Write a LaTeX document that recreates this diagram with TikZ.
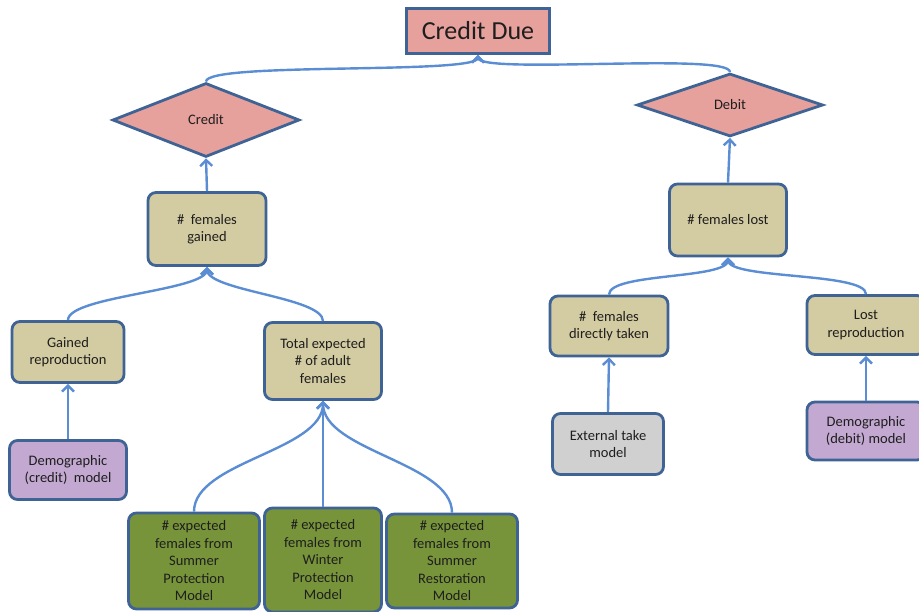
\documentclass[tikz,border=0pt]{standalone}
\usepackage{fontspec}
\setmainfont{Carlito}
\usetikzlibrary{positioning, calc, shapes.geometric, arrows, arrows.meta}

\definecolor{boxline}{HTML}{3E6394}
\definecolor{linkblue}{HTML}{5A8DD3}
\definecolor{salmon}{HTML}{E6A19D}
\definecolor{sand}{HTML}{D3CBA1}
\definecolor{lilac}{HTML}{C3A9D1}
\definecolor{greybox}{HTML}{D0D0D0}
\definecolor{moss}{HTML}{78943A}
\definecolor{ink}{HTML}{1E1E1E}

\begin{document}
\begin{tikzpicture}[x=1pt, y=-1pt,
    box/.style={draw=boxline, line width=2.8pt, rounded corners=8pt, align=center, inner sep=1pt,
                text=ink, font=\fontsize{14.5}{17.5}\selectfont},
    dia/.style={diamond, draw=boxline, line width=2.8pt, fill=salmon, inner sep=0pt,
                text=ink, font=\fontsize{14.5}{17}\selectfont},
    link/.style={linkblue, line width=2.4pt, -{Straight Barb[length=6pt, width=12pt]}},
    bow/.style={out=90, in=-90, distance=#1}]
\useasboundingbox (0,0) rectangle (919,612);

\draw (478,31) node[box, rounded corners=0pt, fill=salmon, minimum width=143pt, minimum height=45pt,
                    font=\fontsize{26}{30}\selectfont](t0){Credit Due}
      (206,120) node[dia, minimum width=187pt, minimum height=74pt](c0){Credit}
      (730,105) node[dia, minimum width=186pt, minimum height=63pt](d0){Debit};

\draw (207,229) node[box, fill=sand, minimum width=118pt, minimum height=73pt](c1){\#\ \ females\\gained}
      (68,352)  node[box, fill=sand, minimum width=112pt, minimum height=61pt](c2){Gained\\reproduction}
      (323,361) node[box, fill=sand, minimum width=117pt, minimum height=77pt](c3){Total expected\\\# of adult\\females}
      (68,470)  node[box, fill=lilac, minimum width=117pt, minimum height=59pt](c4){Demographic\\(credit)\ \ model};

\draw (194,561) node[box, fill=moss, minimum width=131pt, minimum height=96pt](c5){\# expected\\females from\\Summer\\Protection\\Model}
      (323,560) node[box, fill=moss, minimum width=117pt, minimum height=104pt](c6){\# expected\\females from\\Winter\\Protection\\Model}
      (452,561) node[box, fill=moss, minimum width=131pt, minimum height=94pt](c7){\# expected\\females from\\Summer\\Restoration\\Model};

\draw (728,220) node[box, fill=sand, minimum width=117pt, minimum height=72pt](d1){\#\ females lost}
      (609,326) node[box, fill=sand, minimum width=118pt, minimum height=60pt](d2){\#\ \ females\\directly taken}
      (866,325) node[box, fill=sand, minimum width=118pt, minimum height=59pt](d3){Lost\\reproduction}
      (608,444) node[box, fill=greybox, minimum width=111pt, minimum height=61pt](d4){External take\\model}
      (866,431) node[box, fill=lilac, minimum width=118pt, minimum height=58pt](d5){Demographic\\(debit) model};

\path[link]
    (c0.north) edge[bow=20pt] (t0.south)
    (d0.north) edge[bow=20pt] (t0.south)
    (c1.north) edge (c0.south)
    (d1.north) edge (d0.south)
    (c2.north) edge[bow=24pt] (c1.south)
    (c3.north) edge[bow=24pt] (c1.south)
    (c4.north) edge (c2.south)
    (c5.north) edge[bow=50pt] (c3.south)
    (c6.north) edge (c3.south)
    (c7.north) edge[bow=50pt] (c3.south)
    (d2.north) edge[bow=22pt] (d1.south)
    (d3.north) edge[bow=22pt] (d1.south)
    (d4.north) edge (d2.south)
    (d5.north) edge (d3.south);
\end{tikzpicture}
\end{document}
